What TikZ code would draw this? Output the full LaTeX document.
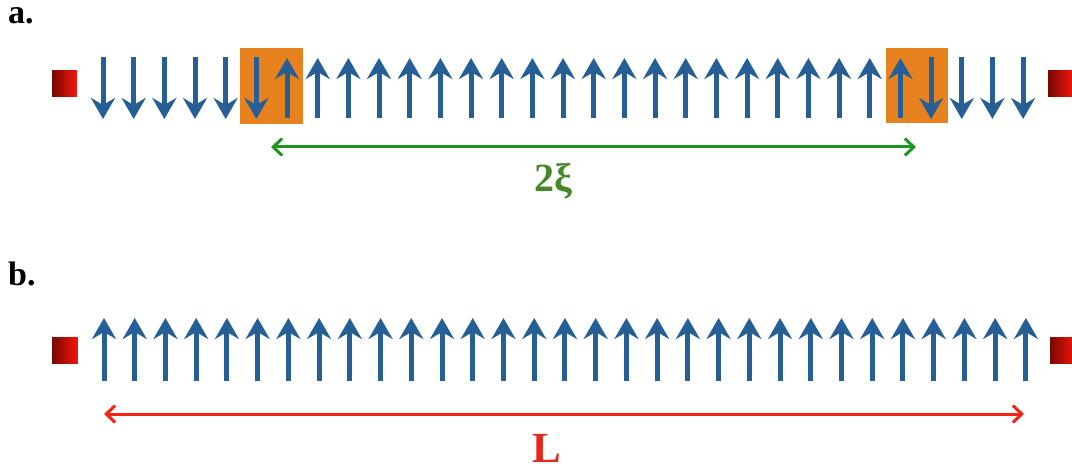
\documentclass[tikz,border=0pt]{standalone}
\usepackage{fontspec}
\setmainfont{Liberation Serif}
\usetikzlibrary{arrows.meta}
\definecolor{spinblue}{RGB}{38,94,150}
\definecolor{orangebox}{RGB}{232,130,30}
\definecolor{greenarrow}{RGB}{30,150,30}
\definecolor{greentext}{RGB}{70,135,40}
\definecolor{redarrow}{RGB}{245,35,20}
\definecolor{redtext}{RGB}{228,40,30}
\definecolor{leadred}{RGB}{240,20,10}
\tikzset{
  spin/.style={draw=spinblue, line width=5pt, -{Stealth[length=21pt,width=24pt,inset=7pt]}},
  dimline/.style={line width=3pt, {Straight Barb[length=9pt,width=17pt]}-{Straight Barb[length=9pt,width=17pt]}},
  panellabel/.style={anchor=base west, inner sep=0pt, text height=17pt, text depth=0pt, font=\bfseries\fontsize{34}{34}\selectfont}
}
% lead: horizontal gradient, dark on the left, bright on the right
\newcommand{\leadbox}[4]{%
  \foreach \k in {0,...,12}{
    \pgfmathsetmacro{\pp}{50+50*\k/12}
    \pgfmathsetmacro{\xa}{#1+(#3-#1)*\k/13}
    \pgfmathsetmacro{\xb}{#1+(#3-#1)*(\k+1)/13+0.3}
    \fill[leadred!\pp!black] (\xa,#2) rectangle (\xb,#4);
  }%
}
\begin{document}
\begin{tikzpicture}[x=1pt,y=-1pt]
\useasboundingbox (0,0) rectangle (1072,468);
\fill[white] (0,0) rectangle (1072,468);
% panel labels
\node[panellabel] (la) at (8,24) {a.};
\node[panellabel] (lb) at (8,285) {b.};
% orange domain walls
\fill[orangebox] (240,48) rectangle (303,124);
\fill[orangebox] (886,48) rectangle (948,123);
% leads
\leadbox{52}{70}{77}{97}
\leadbox{1048}{70}{1073}{97}
\leadbox{52}{337}{78}{364}
\leadbox{1050}{337}{1076}{364}
% spins row a
\foreach \i in {0,...,30}{
  \pgfmathsetmacro{\xx}{103+\i*30.67}
  \ifnum\i<6
    \draw[spin] (\xx,57) -- (\xx,119);
  \else\ifnum\i>26
    \draw[spin] (\xx,57) -- (\xx,119);
  \else
    \draw[spin] (\xx,118) -- (\xx,58);
  \fi\fi
}
% spins row b
\foreach \i in {0,...,30}{
  \pgfmathsetmacro{\xx}{104+\i*30.73}
  \draw[spin] (\xx,381) -- (\xx,318);
}
% green dimension
\coordinate (ga) at (271,147);
\coordinate (gb) at (916,147);
\draw[dimline, draw=greenarrow] (ga) -- (gb);
\node[text=greentext, font=\bfseries\fontsize{40}{40}\selectfont, inner sep=0pt] (xi) at (553,181) {2ξ};
% red dimension
\coordinate (ra) at (104,414);
\coordinate (rb) at (1024,414);
\draw[dimline, draw=redarrow] (ra) -- (rb);
\node[text=redtext, font=\bfseries\fontsize{43}{43}\selectfont, inner sep=0pt, text height=29pt, text depth=0pt, anchor=base] (len) at (547,462) {L};
\end{tikzpicture}
\end{document}
